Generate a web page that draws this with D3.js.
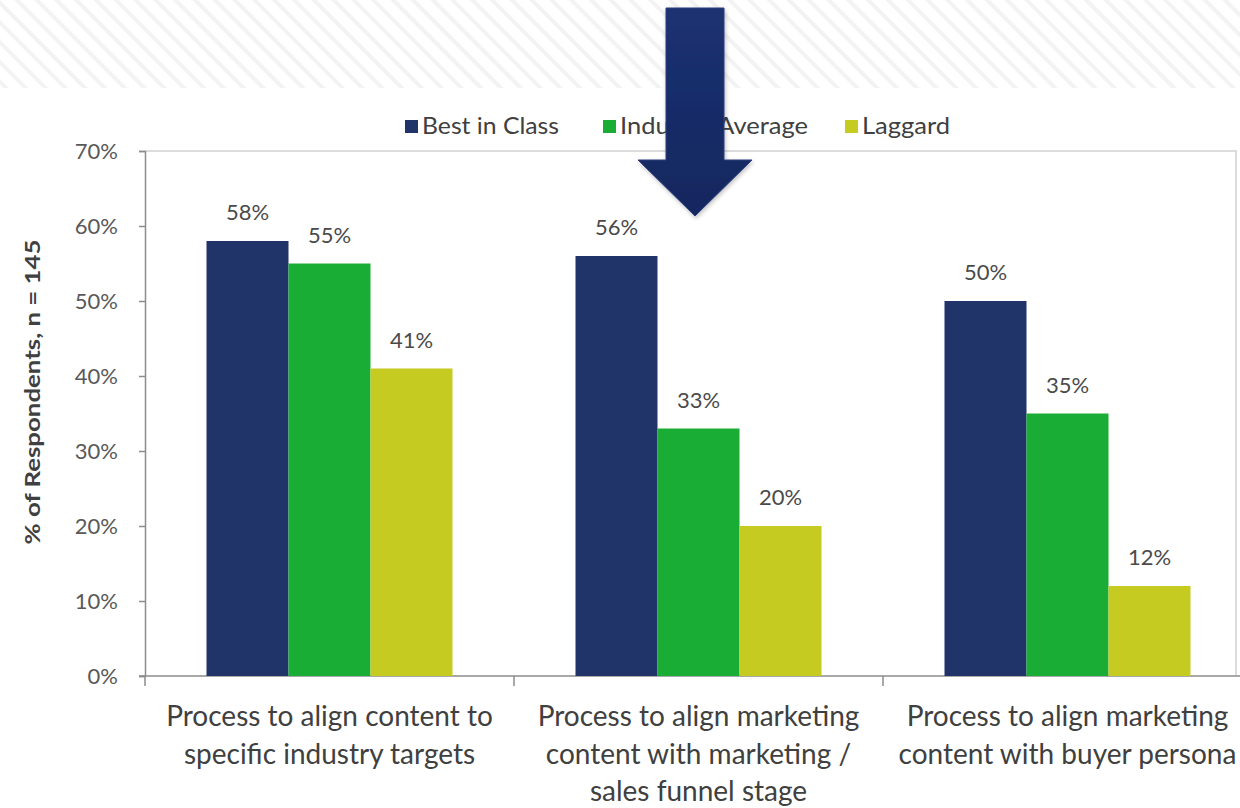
<!DOCTYPE html>
<html>
<head>
<meta charset="utf-8">
<script src="https://cdn.jsdelivr.net/npm/d3@7"></script>
<style>
  html, body { margin: 0; padding: 0; background: #ffffff; }
  svg { display: block; }
</style>
</head>
<body>
<svg id="chart" width="1240" height="808"></svg>
<script>
// Categories (each is drawn on up to three lines)
const categories = [
  ["Process to align content to", "specific industry targets"],
  ["Process to align marketing", "content with marketing /", "sales funnel stage"],
  ["Process to align marketing", "content with buyer persona"]
];
const seriesNames = ["Best in Class", "Industry Average", "Laggard"];
const bestInClass = [58, 56, 50];
const industryAverage = [55, 33, 35];
const laggard = [41, 20, 12];
const yTicks = [0, 10, 20, 30, 40, 50, 60, 70];
const colors = ["#20346a", "#1aad35", "#c6cb22"];

const seriesValues = [bestInClass, industryAverage, laggard];
const catKeys = categories.map((c, i) => "c" + i);

const svg = d3.select("#chart");
const font = "Lato, 'Open Sans', sans-serif";

// Diagonal hatch band across the top
const defs = svg.append("defs");
const pat = defs.append("pattern")
  .attr("id", "hatch")
  .attr("patternUnits", "userSpaceOnUse")
  .attr("width", 14).attr("height", 14)
  .attr("patternTransform", "rotate(45)");
pat.append("rect").attr("width", 14).attr("height", 14).attr("fill", "#ffffff");
pat.append("rect").attr("x", 0).attr("y", 0).attr("width", 14).attr("height", 4).attr("fill", "#f3f3f3");
svg.append("rect").attr("x", 0).attr("y", 0).attr("width", 1240).attr("height", 88).attr("fill", "url(#hatch)");

const grad = defs.append("linearGradient").attr("id", "arrowGrad")
  .attr("x1", 0).attr("y1", 0).attr("x2", 0).attr("y2", 1);
grad.append("stop").attr("offset", "0%").attr("stop-color", "#1b3172");
grad.append("stop").attr("offset", "100%").attr("stop-color", "#15275e");

const shadow = defs.append("filter").attr("id", "shadow")
  .attr("x", "-20%").attr("y", "-20%").attr("width", "140%").attr("height", "140%");
shadow.append("feDropShadow").attr("dx", 1).attr("dy", 2).attr("stdDeviation", 2)
  .attr("flood-color", "#000").attr("flood-opacity", 0.25);

// Scales
const plotLeft = 145, plotTop = 151, plotBottom = 676;
const bandW = 369;
const x = d3.scaleBand().domain(catKeys).range([plotLeft, plotLeft + bandW * 3]).padding(0);
const xs = d3.scaleBand().domain(seriesNames).range([0, x.bandwidth()]).paddingInner(0).paddingOuter(0.75);
const y = d3.scaleLinear().domain([0, 70]).range([plotBottom, plotTop]);

// Plot frame (top and right)
svg.append("path")
  .attr("d", `M${plotLeft},${plotTop}H1236V${plotBottom}`)
  .attr("fill", "none").attr("stroke", "#dcdcdc").attr("stroke-width", 2);

// Y axis
const yAxis = d3.axisLeft(y).tickValues(yTicks).tickFormat(d => d + "%").tickSize(6).tickPadding(21);
const gy = svg.append("g").attr("transform", `translate(${plotLeft},0)`).call(yAxis);
gy.select(".domain").attr("stroke", "#8c8c8c").attr("stroke-width", 1.5);
gy.selectAll(".tick line").attr("stroke", "#8c8c8c").attr("stroke-width", 1.5);
gy.selectAll(".tick text").attr("fill", "#595959").style("font-family", font).style("font-size", "22px");

// X axis line and boundary ticks
svg.append("line").attr("x1", plotLeft - 6).attr("x2", 1240).attr("y1", plotBottom).attr("y2", plotBottom)
  .attr("stroke", "#8c8c8c").attr("stroke-width", 1.5);
svg.selectAll(".xtick").data(catKeys).enter().append("line")
  .attr("x1", d => x(d)).attr("x2", d => x(d))
  .attr("y1", plotBottom).attr("y2", plotBottom + 10)
  .attr("stroke", "#8c8c8c").attr("stroke-width", 1.5);

// Bars with value labels
const groups = svg.selectAll(".grp").data(catKeys).enter().append("g")
  .attr("transform", d => `translate(${x(d)},0)`);
groups.each(function(k, ci) {
  const g = d3.select(this);
  seriesNames.forEach((s, si) => {
    const v = seriesValues[si][ci];
    g.append("rect")
      .attr("x", xs(s)).attr("y", y(v))
      .attr("width", xs.bandwidth()).attr("height", y(0) - y(v))
      .attr("fill", colors[si]);
    g.append("text")
      .attr("x", xs(s) + xs.bandwidth() / 2).attr("y", y(v) - 21)
      .attr("text-anchor", "middle")
      .attr("fill", "#4a4a4a")
      .style("font-family", font).style("font-size", "22px")
      .text(v + "%");
  });
});

// Category labels
categories.forEach((lines, ci) => {
  const cx = x(catKeys[ci]) + x.bandwidth() / 2;
  const t = svg.append("text")
    .attr("x", cx)
    .attr("y", 726)
    .attr("text-anchor", "middle")
    .attr("fill", "#404040")
    .style("font-family", font).style("font-size", "28px");
  lines.forEach((ln, li) => {
    t.append("tspan").attr("x", cx).attr("dy", li === 0 ? 0 : 37.5).text(ln);
  });
});

// Y axis title
svg.append("text")
  .attr("transform", "translate(40,392) rotate(-90)")
  .attr("text-anchor", "middle")
  .attr("fill", "#404040")
  .attr("textLength", 305).attr("lengthAdjust", "spacingAndGlyphs")
  .style("font-family", font).style("font-size", "20px").style("font-weight", "bold")
  .text("% of Respondents, n = 145");

// Legend
const legendX = [405, 603, 845];
const legendTextW = [137, 188, 88];
seriesNames.forEach((s, i) => {
  svg.append("rect").attr("x", legendX[i]).attr("y", 120).attr("width", 13).attr("height", 13).attr("fill", colors[i]);
  svg.append("text").attr("x", legendX[i] + 17).attr("y", 134)
    .attr("fill", "#404040")
    .attr("textLength", legendTextW[i]).attr("lengthAdjust", "spacingAndGlyphs")
    .style("font-family", font).style("font-size", "24px")
    .text(s);
});

// Downward arrow over the legend
svg.append("path")
  .attr("d", "M666,8H724V160H752L695,216L638,160H666Z")
  .attr("fill", "url(#arrowGrad)")
  .attr("stroke", "#2a3f7e").attr("stroke-width", 1)
  .attr("filter", "url(#shadow)");
</script>
</body>
</html>
